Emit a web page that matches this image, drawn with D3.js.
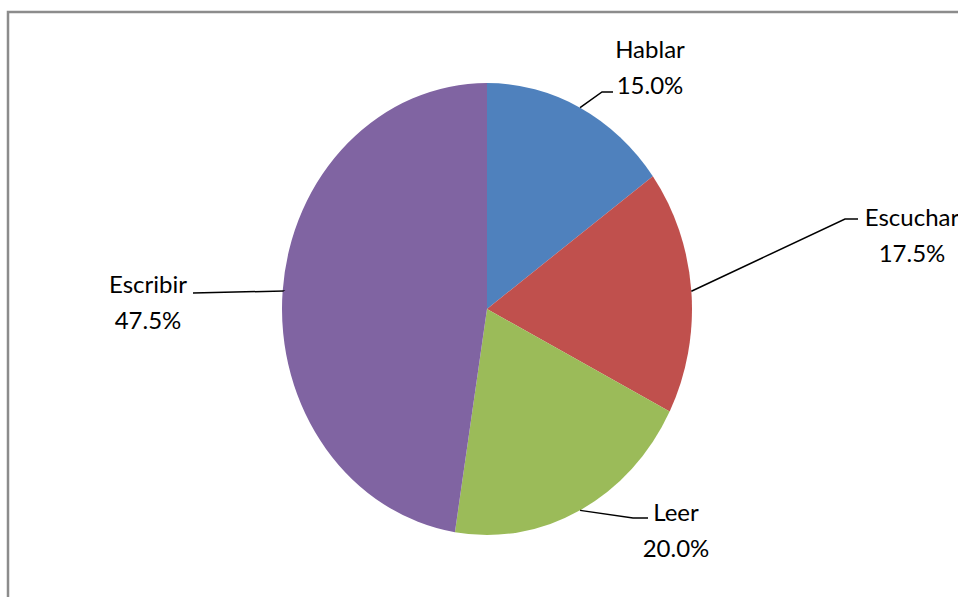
<!DOCTYPE html>
<html>
<head>
<meta charset="utf-8">
<script src="https://cdn.jsdelivr.net/npm/d3@7"></script>
<style>
  html, body { margin: 0; padding: 0; background: #fff; }
  svg text { font-family: Lato, "Open Sans", sans-serif; font-size: 24px; fill: #000; }
</style>
</head>
<body>
<div id="chart"></div>
<script>
(function () {
  const categories = ["Hablar", "Escuchar", "Leer", "Escribir"]
  const values = [15.0, 17.5, 20.0, 47.5]
  const colors = ["#4F81BD", "#C0504D", "#9BBB59", "#8064A2"]

  const width = 958
  const height = 597

  const cx = 487
  const cy = 309
  const rx = 205
  const ry = 226

  // where each label's leader line bends, and where the text sits
  const labelLayout = [
    { elbow: [602, 92], end: [613, 92], x: 650, y: 58 },
    { elbow: [845, 219], end: [858, 219], x: 912, y: 226 },
    { elbow: [633, 518], end: [648, 518], x: 676, y: 521 },
    { elbow: [283, 291], end: [193, 293], x: 148, y: 293 }
  ]

  const svg = d3.select('#chart').append('svg')
    .attr('width', width)
    .attr('height', height)

  // frame
  svg.append('path')
    .attr('d', `M8,${height + 5} L8,12 L${width + 5},12`)
    .attr('fill', 'none')
    .attr('stroke', '#8c8c8c')
    .attr('stroke-width', 2.5)

  const pie = d3.pie().sort(null).value(d => d)
  const arcs = pie(values)
  const arc = d3.arc().innerRadius(0).outerRadius(ry)

  const g = svg.append('g')
    .attr('transform', `translate(${cx},${cy}) scale(${rx / ry},1)`)

  g.selectAll('path')
    .data(arcs)
    .join('path')
      .attr('d', arc)
      .attr('fill', (d, i) => colors[i])

  const fmt = d3.format('.1f')

  arcs.forEach(function (d, i) {
    const mid = (d.startAngle + d.endAngle) / 2
    const sx = cx + rx * Math.sin(mid)
    const sy = cy - ry * Math.cos(mid)
    const L = labelLayout[i]

    svg.append('path')
      .attr('d', `M${sx},${sy} L${L.elbow[0]},${L.elbow[1]} L${L.end[0]},${L.end[1]}`)
      .attr('fill', 'none')
      .attr('stroke', '#000')
      .attr('stroke-width', 1.5)

    const t = svg.append('text')
      .attr('x', L.x)
      .attr('y', L.y)
      .attr('text-anchor', 'middle')
    t.append('tspan').attr('x', L.x).text(categories[i])
    t.append('tspan').attr('x', L.x).attr('dy', 36).text(fmt(values[i]) + '%')
  })
})();
</script>
</body>
</html>
